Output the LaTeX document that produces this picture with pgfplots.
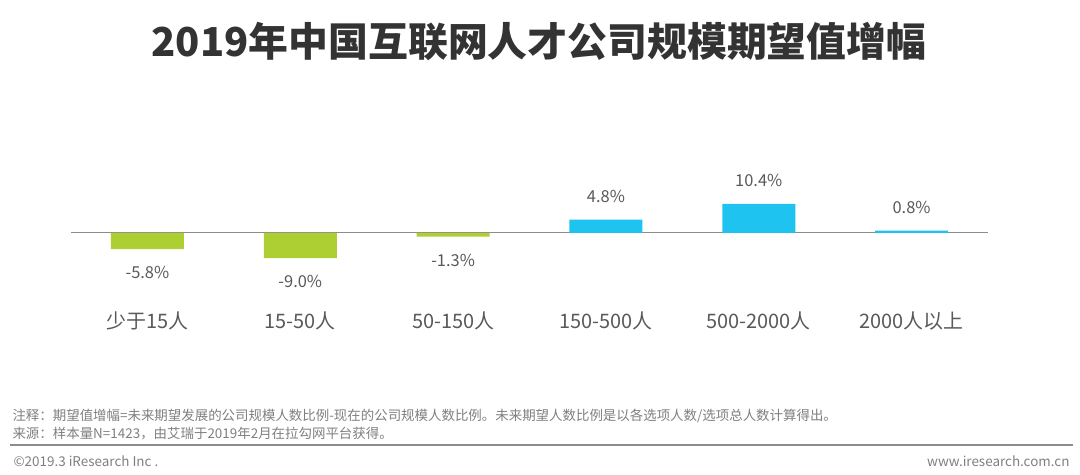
\documentclass[border=0pt]{standalone}
\usepackage{pgfplots}
\pgfplotsset{compat=1.18}
\usepackage{fontspec}
\setmainfont{Noto Sans CJK SC}
\definecolor{barGreen}{HTML}{AECF34}
\definecolor{barBlue}{HTML}{1FC3EF}
\definecolor{txt}{HTML}{595959}
\definecolor{ttl}{HTML}{333333}
\definecolor{note}{HTML}{808080}
\begin{document}
\begin{tikzpicture}[x=1bp,y=1bp]
\path[use as bounding box] (0,0) rectangle (1080,475);
\fill[white] (0,0) rectangle (1080,475);
\node[font=\fontsize{40}{46}\selectfont\bfseries, text=ttl] at (539,433) {2019年中国互联网人才公司规模期望值增幅};
\begin{axis}[
  at={(71bp,242bp)}, anchor=west,
  scale only axis, width=917bp, height=67.2bp,
  xmin=-0.5, xmax=5.5, ymin=-12, ymax=12,
  axis line style={draw=none},
  ytick=\empty,
  xtick={0,1,2,3,4,5},
  xticklabels={少于15人,15-50人,50-150人,150-500人,500-2000人,2000人以上},
  major tick length=0pt,
  xticklabel style={anchor=center, yshift=-54bp, font=\fontsize{20}{22}\selectfont, text=txt},
  clip=false,
  ybar, bar width=73bp,
  point meta=explicit symbolic,
  every node near coord/.append style={font=\fontsize{16.5}{20}\selectfont, text=txt, inner sep=0pt},
]
\draw[color=black!45, line width=1bp] (axis cs:-0.5,0) -- (axis cs:5.5,0);
\addplot[fill=barGreen, draw=none, bar shift=0pt, nodes near coords, nodes near coords align={below},
  every node near coord/.append style={yshift=-17bp}]
  coordinates {(0,-5.8) [-5.8\%] (1,-9.0) [-9.0\%] (2,-1.3) [-1.3\%]};
\addplot[fill=barBlue, draw=none, bar shift=0pt, nodes near coords, nodes near coords align={above},
  every node near coord/.append style={yshift=17bp}]
  coordinates {(3,4.8) [4.8\%] (4,10.4) [10.4\%] (5,0.8) [0.8\%]};
\end{axis}
\node[anchor=west, font=\fontsize{13.5}{15}\selectfont, text=note] at (9,59) {注释：期望值增幅=未来期望发展的公司规模人数比例-现在的公司规模人数比例。未来期望人数比例是以各选项人数/选项总人数计算得出。};
\node[anchor=west, font=\fontsize{13.5}{15}\selectfont, text=note] at (9,41) {来源：样本量N=1423，由艾瑞于2019年2月在拉勾网平台获得。};
\draw[color=black!45, line width=2bp] (10,30) -- (1073,30);
\node[anchor=west, font=\fontsize{13.5}{15}\selectfont, text=note] at (10,14) {©2019.3 iResearch Inc .};
\node[anchor=east, font=\fontsize{13.5}{15}\selectfont, text=note] at (1073,14) {www.iresearch.com.cn};
\end{tikzpicture}
\end{document}
